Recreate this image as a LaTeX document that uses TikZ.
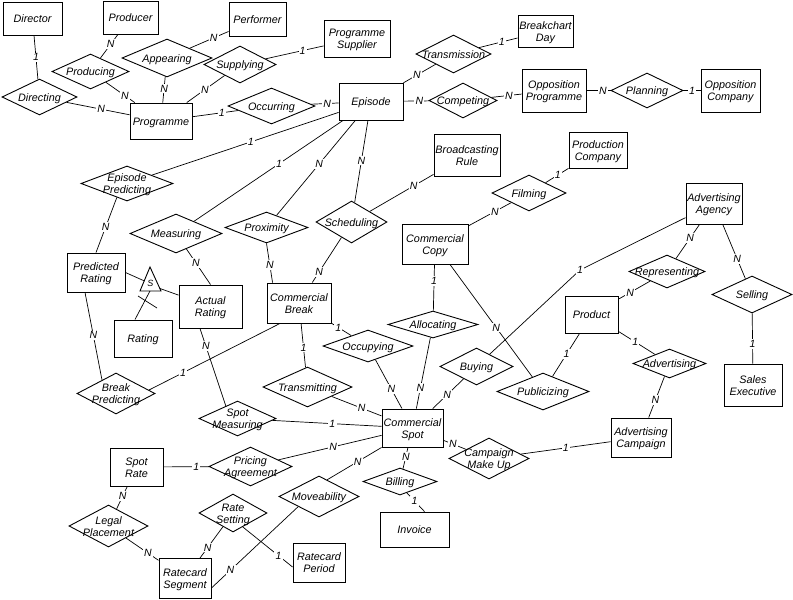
\documentclass[tikz,border=0pt]{standalone}
\usepackage{fontspec}
\setmainfont{Liberation Sans}
\usetikzlibrary{shapes.geometric,calc}
\newcommand{\zt}[1]{\smash{\makebox[0pt]{\raisebox{-4.8pt}{\begin{tabular}{@{}c@{}}#1\end{tabular}}}}}
\newcommand{\efont}{\fontsize{10.8}{12}\selectfont\itshape}
\newcommand{\lfont}{\fontsize{10.5}{12}\selectfont\itshape}
\tikzset{
  wh/.style 2 args={minimum width=#1pt, minimum height=#2pt},
  ent/.style={draw, line width=0.9pt, rectangle, inner sep=0pt, font=\efont},
  rel/.style={draw, line width=0.9pt, diamond, inner sep=0pt, font=\efont},
  lab/.style={fill=white, inner sep=1.2pt, font=\lfont},
  conn/.style={line width=0.7pt},
}
\begin{document}
\begin{tikzpicture}[x=1pt,y=-1pt]
\useasboundingbox (0,0) rectangle (793,600);
% entities
\node[ent,wh={59}{33}] (dir) at (32.5,18.5) {\zt{Director}};
\node[ent,wh={55}{33}] (prod) at (130.5,17.5) {\zt{Producer}};
\node[ent,wh={57}{34}] (perf) at (257.5,19) {\zt{Performer}};
\node[ent,wh={66}{37}] (psup) at (357,38.5) {\zt{Programme\\Supplier}};
\node[ent,wh={55}{32}] (bday) at (545.5,31) {\zt{Breakchart\\Day}};
\node[ent,wh={62}{36}] (prog) at (161,121) {\zt{Programme}};
\node[ent,wh={64}{37}] (epi) at (371,101.5) {\zt{Episode}};
\node[ent,wh={64}{43}] (oprog) at (554,90.5) {\zt{Opposition\\Programme}};
\node[ent,wh={59}{43}] (ocomp) at (730.5,90.5) {\zt{Opposition\\Company}};
\node[ent,wh={66}{42}] (brule) at (467,155) {\zt{Broadcasting\\Rule}};
\node[ent,wh={58}{36}] (pcomp) at (598,150) {\zt{Production\\Company}};
\node[ent,wh={56}{41}] (aag) at (714,203.5) {\zt{Advertising\\Agency}};
\node[ent,wh={66}{40}] (ccopy) at (435,244) {\zt{Commercial\\Copy}};
\node[ent,wh={58}{39}] (prated) at (96,272.5) {\zt{Predicted\\Rating}};
\node[ent,wh={63}{43}] (arated) at (210.5,306.5) {\zt{Actual\\Rating}};
\node[ent,wh={58}{37}] (rating) at (143,338.5) {\zt{Rating}};
\node[ent,wh={64}{40}] (cbreak) at (299,303) {\zt{Commercial\\Break}};
\node[ent,wh={53}{37}] (product) at (591.5,314.5) {\zt{Product}};
\node[ent,wh={58}{42}] (sexec) at (753,385) {\zt{Sales\\Executive}};
\node[ent,wh={61}{38}] (cspot) at (412.5,428) {\zt{Commercial\\Spot}};
\node[ent,wh={60}{39}] (acamp) at (641,437.5) {\zt{Advertising\\Campaign}};
\node[ent,wh={53}{38}] (srate) at (136.5,467) {\zt{Spot\\Rate}};
\node[ent,wh={69}{35}] (invoice) at (414.5,529.5) {\zt{Invoice}};
\node[ent,wh={52}{40}] (rseg) at (185,578.5) {\zt{Ratecard\\Segment}};
\node[ent,wh={52}{39}] (rper) at (319,562.5) {\zt{Ratecard\\Period}};
% relationships
\node[rel,wh={75}{36}] (directing) at (39.5,97) {\zt{Directing}};
\node[rel,wh={77}{35}] (producing) at (90.5,71.5) {\zt{Producing}};
\node[rel,wh={90}{38}] (appearing) at (167,58) {\zt{Appearing}};
\node[rel,wh={72}{37}] (supplying) at (240,64.5) {\zt{Supplying}};
\node[rel,wh={87}{36}] (occurring) at (271.5,106) {\zt{Occurring}};
\node[rel,wh={75}{38}] (transmission) at (453.5,54) {\zt{Transmission}};
\node[rel,wh={68}{35}] (competing) at (463,100.5) {\zt{Competing}};
\node[rel,wh={72}{35}] (planning) at (647,90.5) {\zt{Planning}};
\node[rel,wh={92}{35}] (epred) at (127,183.5) {\zt{Episode\\Predicting}};
\node[rel,wh={92}{39}] (measuring) at (176,233.5) {\zt{Measuring}};
\node[rel,wh={83}{31}] (proximity) at (266.5,227.5) {\zt{Proximity}};
\node[rel,wh={71}{42}] (scheduling) at (351.5,222) {\zt{Scheduling}};
\node[rel,wh={74}{36}] (filming) at (529,193) {\zt{Filming}};
\node[rel,wh={76}{33}] (representing) at (667,271.5) {\zt{Representing}};
\node[rel,wh={80}{37}] (selling) at (752,294.5) {\zt{Selling}};
\node[rel,wh={90}{27}] (allocating) at (433,324.5) {\zt{Allocating}};
\node[rel,wh={90}{32}] (occupying) at (368,346) {\zt{Occupying}};
\node[rel,wh={89}{40}] (transmitting) at (307.5,387) {\zt{Transmitting}};
\node[rel,wh={73}{37}] (buying) at (476.5,366.5) {\zt{Buying}};
\node[rel,wh={92}{37}] (publicizing) at (543,391.5) {\zt{Publicizing}};
\node[rel,wh={73}{29}] (advertising) at (669.5,363.5) {\zt{Advertising}};
\node[rel,wh={78}{41}] (bpred) at (116,393.5) {\zt{Break\\Predicting}};
\node[rel,wh={77}{35}] (smeas) at (237.5,418.5) {\zt{Spot\\Measuring}};
\node[rel,wh={83}{39}] (pricing) at (250.5,466.5) {\zt{Pricing\\Agreement}};
\node[rel,wh={80}{41}] (cmake) at (489,458.5) {\zt{Campaign\\Make Up}};
\node[rel,wh={74}{27}] (billing) at (400,481.5) {\zt{Billing}};
\node[rel,wh={80}{41}] (moveability) at (319,496.5) {\zt{Moveability}};
\node[rel,wh={79}{42}] (legal) at (108.5,526) {\zt{Legal\\Placement}};
\node[rel,wh={68}{38}] (rsetting) at (233,513) {\zt{Rate\\Setting}};
% subtype triangle
\draw[line width=0.9pt] (140,291) -- (150,267) -- (161,291) -- cycle;
\node[font=\fontsize{9}{10}\selectfont\itshape, inner sep=0pt] (S) at (150.5,283) {S};
\coordinate (tl) at (144.5,281);
\coordinate (tr) at (160,288.5);
\coordinate (tb) at (150,291);
\draw[conn] (prated.east) -- (tl);
\draw[conn] (tr) -- (arated);
\draw[conn] (tb) -- ([xshift=-8pt]rating.north);
\draw[conn] (138,296) -- (157,308);
% connectors
\draw[conn] (dir) -- node[lab,pos=.5]{1} (directing);
\draw[conn] (directing) -- node[lab,pos=.55]{N} (prog);
\draw[conn] (prod) -- node[lab,pos=.41]{N} (producing);
\draw[conn] (producing) -- node[lab,pos=.66]{N} (prog);
\draw[conn] (appearing) -- node[lab,pos=.62]{N} (perf);
\draw[conn] (appearing) -- node[lab,pos=.46]{N} (prog);
\draw[conn] (supplying) -- node[lab,pos=.52]{N} (prog);
\draw[conn] (supplying) -- node[lab,pos=.64]{1} (psup);
\draw[conn] (prog) -- node[lab,pos=.64]{1} (occurring);
\draw[conn] (occurring) -- node[lab,pos=.58]{N} (epi);
\draw[conn] (epi) -- node[lab,pos=.42]{N} (transmission);
\draw[conn] (transmission) -- node[lab,pos=.59]{1} (bday);
\draw[conn] (epi) -- node[lab,pos=.62]{N} (competing);
\draw[conn] (competing) -- node[lab,pos=.58]{N} (oprog);
\draw[conn] (oprog) -- node[lab,pos=.68]{N} (planning);
\draw[conn] (planning) -- node[lab,pos=.5]{1} (ocomp);
\draw[conn] (epi) -- node[lab,pos=.47]{1} (epred);
\draw[conn] (epred.234) -- node[lab,pos=.54]{N} (prated.north);
\draw[conn] (epi) -- node[lab,pos=.43]{1} (measuring);
\draw[conn] (measuring) -- node[lab,pos=.39]{N} (arated.north);
\draw[conn] (epi) -- node[lab,pos=.46]{N} (proximity);
\draw[conn] (proximity.south) -- node[lab,pos=.55]{N} ([xshift=6pt]cbreak.north west);
\draw[conn] (epi) -- node[lab,pos=.49]{N} (scheduling);
\draw[conn] (scheduling) -- node[lab,pos=.76]{N} (cbreak);
\draw[conn] (scheduling) -- node[lab,pos=.69]{N} (brule);
\draw[conn] (filming) -- node[lab,pos=.53]{1} (pcomp);
\draw[conn] (filming) -- node[lab,pos=.38]{N} (ccopy);
\draw[conn] (ccopy) -- node[lab,pos=.36]{1} (allocating);
\draw[conn] (allocating) -- node[lab,pos=.71]{N} (cspot);
\draw[conn] (ccopy) -- node[lab,pos=.56]{N} (publicizing);
\draw[conn] (product) -- node[lab,pos=.48]{1} (publicizing);
\draw[conn] (aag) -- node[lab,pos=.40]{N} (representing);
\draw[conn] (representing) -- node[lab,pos=.63]{N} (product);
\draw[conn] (aag) -- node[lab,pos=.64]{N} (selling);
\draw[conn] (selling) -- node[lab,pos=.61]{1} (sexec);
\draw[conn] (product) -- node[lab,pos=.46]{1} (advertising);
\draw[conn] (advertising) -- node[lab,pos=.57]{N} (acamp);
\coordinate (kb) at (580,270);
\draw[conn] (aag) -- (kb) node[lab]{1} -- (buying);
\draw[conn] (buying) -- node[lab,pos=.53]{N} (cspot);
\draw[conn] (cbreak) -- node[lab,pos=.34]{1} (occupying);
\draw[conn] (occupying) -- node[lab,pos=.6]{N} (cspot);
\draw[conn] (cbreak) -- node[lab,pos=.55]{1} (transmitting);
\draw[conn] (transmitting) -- node[lab,pos=.6]{N} (cspot);
\draw[conn] (bpred.6) -- node[lab,pos=.26]{1} ([xshift=-19pt]cbreak.south);
\draw[conn] ([xshift=-11pt]prated.south) -- node[lab,pos=.49]{N} (bpred.136);
\draw[conn] ([xshift=-10.5pt]arated.south) -- node[lab,pos=.23]{N} (smeas.133);
\draw[conn] (smeas) -- node[lab,pos=.55]{1} (cspot);
\draw[conn] (pricing) -- node[lab,pos=.53]{N} (cspot);
\draw[conn] (srate) -- node[lab,pos=.72]{1} (pricing);
\draw[conn] (srate) -- node[lab,pos=.43]{N} (legal);
\draw[conn] (legal) -- node[lab,pos=.67]{N} (rseg);
\draw[conn] (rsetting) -- node[lab,pos=.66]{N} (rseg);
\draw[conn] (rsetting.305) -- node[lab,pos=.72]{1} ([yshift=-4.5pt]rper.west);
\draw[conn] (moveability.206) -- node[lab,pos=.78]{N} ([yshift=-9.5pt]rseg.east);
\draw[conn] (moveability.64) -- node[lab,pos=.56]{N} (cspot.south west);
\draw[conn] (cspot) -- node[lab,pos=.43]{N} (billing);
\draw[conn] (billing.301) -- node[lab,pos=.44]{1} ([xshift=10pt]invoice.north);
\draw[conn] (cspot) -- node[lab,pos=.42]{N} (cmake);
\draw[conn] (cmake) -- node[lab,pos=.5]{1} (acamp);
\end{tikzpicture}
\end{document}
